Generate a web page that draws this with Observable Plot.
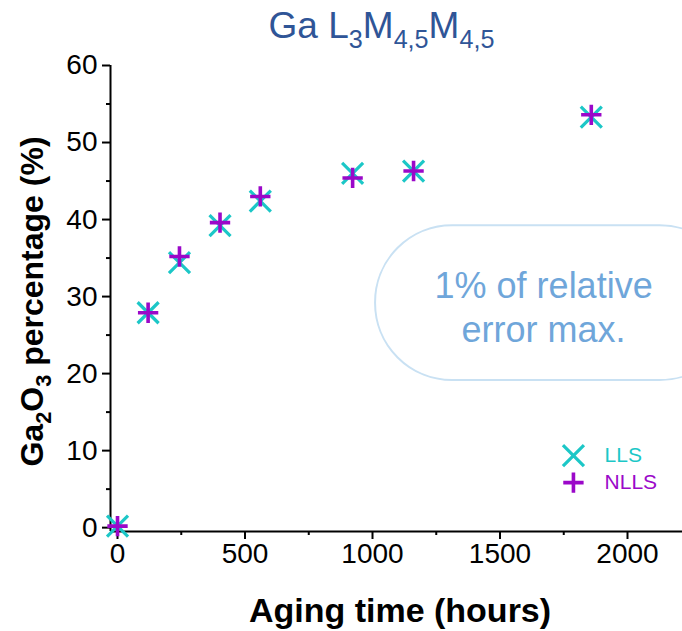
<!DOCTYPE html>
<html><head><meta charset="utf-8">
<script src="https://cdn.jsdelivr.net/npm/d3@7"></script>
<script src="https://cdn.jsdelivr.net/npm/@observablehq/plot@0.6"></script>
<style>
body{margin:0;overflow:hidden;background:#fff;font-family:"Liberation Sans",Arial,sans-serif}
</style>
</head><body><div id="chart"></div>
<script>
// ---- data ----
const hours   = [0, 120, 243, 402, 560, 922, 1161, 1858];
const llsPct  = [0.2, 27.9, 34.4, 39.2, 42.4, 46.0, 46.3, 53.3];
const nllsPct = [0.2, 27.9, 35.2, 39.6, 43.0, 45.4, 46.3, 53.6];
const seriesNames = ["LLS", "NLLS"];
const seriesColors = ["#1cc7c7", "#9b08c9"];
const xTicks = [0, 500, 1000, 1500, 2000];
const xMinor = [250, 750, 1250, 1750];
const yTicks = [0, 10, 20, 30, 40, 50, 60];
const yMinor = [5, 15, 25, 35, 45, 55];
const noteText = "1% of relative\nerror max.";
const noteBox = [{x1: 1012, x2: 2430, y1: 19.1, y2: 39.2}];
const notePos = [{x: 1671, y: 28.8}];
const legendLLS = [{name: "LLS", x: 1788, tx: 1910, y: 9.35}];
const legendNLLS = [{name: "NLLS", x: 1788, tx: 1910, y: 5.85}];

const lls = hours.map((h, i) => ({h, v: llsPct[i]}));
const nlls = hours.map((h, i) => ({h, v: nllsPct[i]}));

const TITLE = "Ga L3M4,5M4,5";
const YLAB = "Ga2O3 percentage (%)";

const xDom = [-27.5, 2215.7];
const yDom = [-0.5, 60];
const tickFont = 28;

const plot = Plot.plot({
  width: 682,
  height: 631,
  marginTop: 65,
  marginBottom: 100,
  marginLeft: 110,
  marginRight: 0,
  style: {fontFamily: '"Liberation Sans", Arial, sans-serif', color: "#000", background: "#fff", overflow: "hidden"},
  x: {domain: xDom},
  y: {domain: yDom},
  marks: [
    // annotation box
    Plot.rect(noteBox, {x1: "x1", x2: "x2", y1: "y1", y2: "y2", rx: 77, fill: "#ffffff", stroke: "#c9e1f3", strokeWidth: 2}),
    Plot.text(notePos, {x: "x", y: "y", text: () => noteText, fontSize: 36, lineHeight: 1.24, fill: "#6fa6da", textAnchor: "middle", lineAnchor: "middle"}),
    // axes
    Plot.axisY(yTicks, {tickSize: 8, tickPadding: 5, fontSize: tickFont, strokeWidth: 2, label: null, tickFormat: d3.format("d")}),
    Plot.axisY(yMinor, {tickSize: 4, text: null, strokeWidth: 2, label: null}),
    Plot.axisX(xTicks, {tickSize: 8, tickPadding: 4, fontSize: tickFont, strokeWidth: 2, label: null, tickFormat: d3.format("d")}),
    Plot.axisX(xMinor, {tickSize: 4, text: null, strokeWidth: 2, label: null}),
    Plot.ruleX([xDom[0]], {strokeWidth: 2}),
    Plot.ruleY([yDom[0]], {strokeWidth: 2}),
    // data
    Plot.dot(lls, {x: "h", y: "v", symbol: "times", r: 9.6, stroke: seriesColors[0], strokeWidth: 3.2}),
    Plot.dot(nlls, {x: "h", y: "v", symbol: "plus", r: 6.6, stroke: seriesColors[1], strokeWidth: 3.6}),
    // legend
    Plot.dot(legendLLS, {x: "x", y: "y", symbol: "times", r: 9.6, stroke: seriesColors[0], strokeWidth: 3.2}),
    Plot.dot(legendNLLS, {x: "x", y: "y", symbol: "plus", r: 6.6, stroke: seriesColors[1], strokeWidth: 3.6}),
    Plot.text(legendLLS, {x: "tx", y: "y", text: "name", fill: seriesColors[0], fontSize: 21, textAnchor: "start"}),
    Plot.text(legendNLLS, {x: "tx", y: "y", text: "name", fill: seriesColors[1], fontSize: 21, textAnchor: "start"}),
    // titles
    Plot.text([TITLE], {frameAnchor: "top", dx: -15, dy: -28, lineAnchor: "bottom", fontSize: 37, fill: "#2f5597", text: d => d}),
    Plot.text([YLAB], {frameAnchor: "left", dx: -68, dy: 3, rotate: -90, textAnchor: "middle", lineAnchor: "bottom", fontSize: 32, fontWeight: "bold", fill: "#000", text: d => d}),
    Plot.text(["Aging time (hours)"], {frameAnchor: "bottom", dx: 3.5, dy: 90, textAnchor: "middle", lineAnchor: "bottom", fontSize: 34, fontWeight: "bold", fill: "#000", text: d => d})
  ]
});

// add subscripts with tspans
function subscript(svg, full, parts) {
  d3.select(svg).selectAll("text").filter(function() { return this.textContent === full; }).each(function() {
    const t = d3.select(this);
    const fs = parseFloat(t.attr("font-size") || getComputedStyle(this).fontSize) || 30;
    t.text(null);
    let down = false;
    for (const [s, sub] of parts) {
      const ts = t.append("tspan").text(s);
      if (sub && !down) { ts.attr("dy", fs * 0.28).attr("font-size", fs * 0.68); down = true; }
      else if (sub) { ts.attr("font-size", fs * 0.68); }
      else if (!sub && down) { ts.attr("dy", -fs * 0.28); down = false; }
    }
  });
}
document.getElementById("chart").appendChild(plot);
subscript(plot, TITLE, [["Ga L", false], ["3", true], ["M", false], ["4,5", true], ["M", false], ["4,5", true]]);
subscript(plot, YLAB, [["Ga", false], ["2", true], ["O", false], ["3", true], [" percentage (%)", false]]);
</script>
</body></html>
